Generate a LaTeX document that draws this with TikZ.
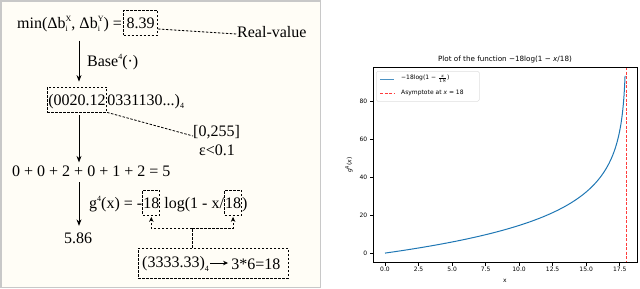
\documentclass[tikz,border=0pt]{standalone}
\usepackage{fontspec}
\setmainfont{Liberation Serif}
\newfontfamily\plotfont{DejaVu Sans}
\usetikzlibrary{arrows.meta,calc}
\definecolor{cream}{RGB}{255,253,246}
\definecolor{panelgray}{RGB}{200,200,200}
\definecolor{mplblue}{RGB}{31,119,180}
\definecolor{asymred}{RGB}{255,60,60}
\newcommand\mysup[1]{\raisebox{6.5pt}{\fontsize{8}{8}\selectfont #1}}
\newcommand\mysub[1]{\raisebox{-3.5pt}{\fontsize{8}{8}\selectfont #1}}
\newcommand\subsup[2]{\rlap{\mysub{#1}}\mysup{#2}}
\begin{document}
\begin{tikzpicture}[x=1pt,y=-1pt,font=\fontsize{16}{19}\selectfont,
  txt/.style={inner sep=0pt,anchor=base west},
  ctxt/.style={inner sep=0pt,anchor=west},
  dbox/.style={draw,dash pattern=on 2.5pt off 1.5pt,line width=0.8pt,inner xsep=1pt,inner ysep=0.5pt,text height=17.5pt,text depth=6.5pt,anchor=base west},
  dline/.style={dash pattern=on 2.5pt off 1.5pt,line width=0.8pt},
  darr/.style={dline,-{Stealth[length=5pt,width=4.5pt]}},
  solidarr/.style={line width=0.85pt,-{Stealth[length=6.5pt,width=5pt]}},
  ptxt/.style={inner sep=0pt,font=\plotfont\fontsize{6}{7}\selectfont},
  spine/.style={line width=0.7pt,black}]
\path[use as bounding box] (0,0) rectangle (640,289);
% left panel
\draw[panelgray,line width=1.5pt,fill=cream] (0.75,0.75) rectangle (320.5,287.5);
\coordinate (ax) at (79,0);
\node[txt] (minexpr) at (17,28) {min(Δb\subsup{i}{X}, Δb\subsup{i}{Y}) =};
\node[dbox,inner xsep=3pt] (v839) at ([xshift=1pt]minexpr.base east) {8.39};
\node[txt] (realv) at (237,37) {Real-value};
\draw[dline] ([yshift=-6.5pt]v839.east) -- ([yshift=-2.5pt]realv.west);
\node[dbox] (n4a) at (47,105) {(0020.12};
\node[txt] (n4b) at (n4a.base east) {0331130...)\mysub{4}};
\draw[solidarr,shorten <=9pt,shorten >=5pt] (minexpr.south -| ax) -- (n4a.north -| ax);
\node[ctxt] (baselbl) at (87,62) {Base\mysup{4}(·)};
\node[ctxt] (range) at (193,132) {[0,255]};
\node[ctxt] (eps) at (199,150) {ε<0.1};
\draw[dline] (n4a.south east) -- ([yshift=-4pt]range.west);
\node[ctxt] (sum) at (12,171) {0 + 0 + 2 + 0 + 1 + 2 = 5};
\draw[solidarr,shorten <=3pt,shorten >=3pt] (n4a.south -| ax) -- (sum.north -| ax);
\node[ctxt] (r586) at (64,238) {5.86};
\draw[solidarr,shorten <=5.5pt,shorten >=6.5pt] (sum.south -| ax) -- (r586.north -| ax);
\node[txt] (g1) at (89,208) {g\mysup{4}(x) = -};
\node[dbox,inner xsep=0.5pt] (g18a) at (g1.base east) {18};
\node[txt] (g2) at ([xshift=4pt]g18a.base east) {log(1 - x/};
\node[dbox,inner xsep=0.5pt] (g18b) at (g2.base east) {18};
\node[txt] (g3) at (g18b.base east) {)};
\node[draw,dash pattern=on 2.5pt off 1.5pt,line width=0.8pt,minimum width=150pt,minimum height=30pt] (bbox) at (213,263) {};
\node[ctxt] (bt1) at (142,264) {(3333.33)\mysub{4}};
\node[ctxt] (bt2) at ([xshift=22pt]bt1.east) {3*6=18};
\draw[line width=0.8pt,-{Stealth[length=5pt,width=4.5pt]},shorten <=1pt,shorten >=3pt] ([yshift=1pt]bt1.east) -- ([yshift=1pt]bt1.east -| bt2.west);
\coordinate (bj) at ($(g18a.south)!0.5!(g18b.south)+(0,13)$);
\draw[dline] (bbox.north -| bj) -- (bj);
\draw[darr] (bj) -| ([yshift=-1.5pt]g18a.south);
\draw[darr] (bj) -| ([yshift=-1.5pt]g18b.south);
% right panel: plot
\draw[mplblue,line width=1pt] plot[domain=0:5.193,samples=150] ({385+241.38*(1-exp(-\x))},{253.1-34.11*\x});
\draw[asymred,line width=1pt,dash pattern=on 3pt off 1.5pt] (626.4,67) -- (626.4,262);
\draw[spine] (373,67) rectangle (637,262);
\foreach \v/\l [count=\i] in {0/0.0,2.5/2.5,5/5.0,7.5/7.5,10/10.0,12.5/12.5,15/15.0,17.5/17.5}{
  \draw[spine] ({385+13.41*\v},262) -- ++(0,3.5);
  \node[ptxt,anchor=north] (xt\i) at ({385+13.41*\v},266.5) {\l};
}
\foreach \v [count=\i] in {0,20,40,60,80}{
  \draw[spine] (373,{253.1-1.895*\v}) -- ++(-3.5,0);
  \node[ptxt,anchor=east] (yt\i) at (367.5,{253.1-1.895*\v}) {\v};
}
\node[ptxt,font=\plotfont\fontsize{7.2}{8}\selectfont] (ptitle) at (505,60) {Plot of the function −18log(1 − \textit{x}/18)};
\node[ptxt] (xlbl) at (505,281) {x};
\node[ptxt,rotate=90] (ylbl) at (349,165) {\textit{g}\textsuperscript{4}(\textit{x})};
\node[draw=gray!25,fill=white,rounded corners=1.5pt,line width=0.5pt,minimum width=103pt,minimum height=30pt,anchor=north west,inner sep=0pt] (leg) at (376,71) {};
\draw[mplblue!80,line width=1pt] (380,79) -- (394,79);
\node[ptxt,anchor=west] (leg1) at (401,79) {−18log(1 − $\frac{x}{18}$)};
\draw[asymred,line width=1pt,dash pattern=on 3pt off 1.5pt] (380,93) -- (394,93);
\node[ptxt,anchor=west] (leg2) at (401,93) {Asymptote at \textit{x} = 18};
\end{tikzpicture}
\end{document}
